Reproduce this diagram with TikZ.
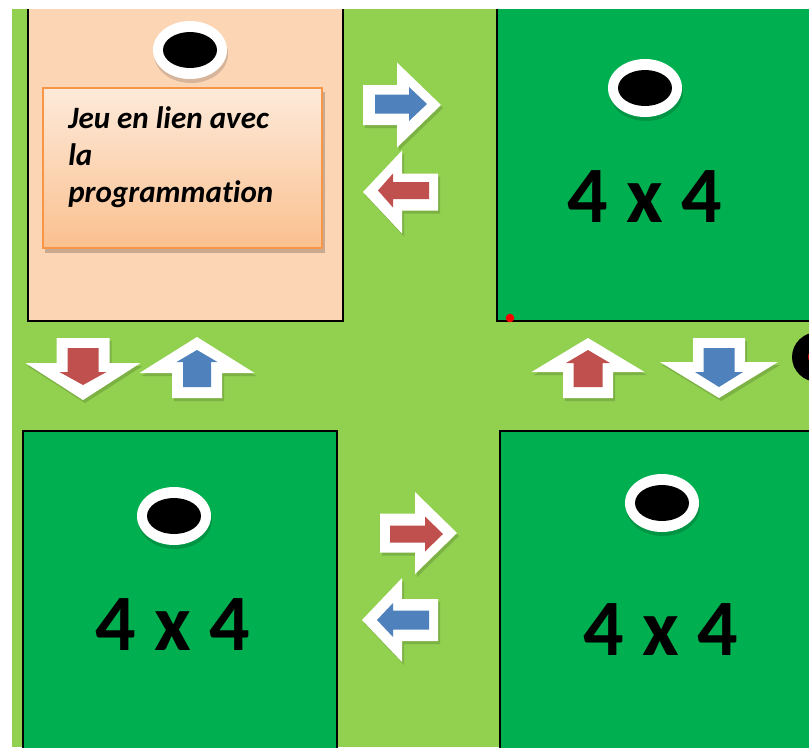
\documentclass[tikz,border=0pt]{standalone}
\usepackage{fontspec}
\setmainfont[Ligatures=CommonOff]{Carlito}
\definecolor{lgreen}{HTML}{92D050}
\definecolor{dgreen}{HTML}{00B050}
\definecolor{peach}{HTML}{FCD5B5}
\definecolor{arrred}{HTML}{C0504D}
\definecolor{arrblue}{HTML}{4F81BD}
\definecolor{orangeb}{HTML}{F79646}
\definecolor{boxtop}{HTML}{FDEADA}
\definecolor{boxbot}{HTML}{FAC08F}
% horizontal block arrow: style, tail x, head-base x, tip x, centre y, half shaft, half head
\newcommand\harrow[7]{\fill[#1] ({#2},{#5-#6}) -- ({#3},{#5-#6}) -- ({#3},{#5-#7}) -- ({#4},{#5}) -- ({#3},{#5+#7}) -- ({#3},{#5+#6}) -- ({#2},{#5+#6}) -- cycle;}
% vertical block arrow: style, tail y, head-base y, tip y, centre x, half shaft, half head
\newcommand\varrow[7]{\fill[#1] ({#5-#6},{#2}) -- ({#5-#6},{#3}) -- ({#5-#7},{#3}) -- ({#5},{#4}) -- ({#5+#7},{#3}) -- ({#5+#6},{#3}) -- ({#5+#6},{#2}) -- cycle;}
\tikzset{
  boxline/.style={draw=black, line width=1.5pt},
  whitearr/.style={white},
  holeout/.style={fill=white},
  holein/.style={fill=black},
  bigtxt/.style={anchor=base, font=\bfseries\fontsize{60}{60}\selectfont, inner sep=0pt},
  boxtxt/.style={anchor=base west, font=\bfseries\itshape\fontsize{23.3}{27}\selectfont, inner sep=0pt},
}
\newcommand\hole[2]{%
  \fill[black, opacity=0.15] (#1+1,#2+4) ellipse [x radius=27.75pt, y radius=21.75pt];
  \fill[holeout] (#1,#2) ellipse [x radius=27.75pt, y radius=21.75pt];
  \fill[holein] (#1,#2) ellipse [x radius=20.25pt, y radius=13.5pt];}
\begin{document}
\begin{tikzpicture}[x=0.75pt, y=-0.75pt]
\useasboundingbox (0,0) rectangle (809,747);
\fill[white] (0,0) rectangle (809,747);
\fill[lgreen] (12,9) rectangle (809,747);
\begin{scope}
\clip (12,9) rectangle (809,747);
% plots
\filldraw[fill=peach, boxline] (28,-10) rectangle (343,321);
\filldraw[fill=dgreen, boxline] (497,-10) rectangle (830,321);
\filldraw[fill=dgreen, boxline] (23,431) rectangle (337,760);
\filldraw[fill=dgreen, boxline] (500,431) rectangle (830,760);
% partial hole at right edge
\fill[black] (818,357) ellipse [x radius=19.5pt, y radius=18.75pt];
\fill[red!80!black] (828,357) ellipse [x radius=15pt, y radius=9pt];
\end{scope}
% holes
\hole{190}{50}
\hole{645}{88}
\hole{174}{516}
\hole{662}{503}
% text box
\fill[black, opacity=0.2] (45,92) rectangle (325,253);
\shade[top color=boxtop, bottom color=boxbot, draw=orangeb, line width=1.2pt] (43,88) rectangle (322,248);
\node[boxtxt] (t1) at (68,128) {Jeu en lien avec};
\node[boxtxt] (t2) at (68,165) {la};
\node[boxtxt] (t3) at (68,202) {programmation};
% big labels
\node[bigtxt] (g1) at (645,222) {4 x 4};
\node[bigtxt] (g2) at (173,650) {4 x 4};
\node[bigtxt] (g3) at (661,655) {4 x 4};
% red dot
\fill[red] (510,318) circle [radius=3.2pt];
% arrow shadows
\begin{scope}[shift={(2,3)}]
\harrow{black, opacity=0.15}{363}{397}{441}{105}{20}{42.5}
\harrow{black, opacity=0.15}{438}{402}{363}{192}{18.5}{41.5}
\harrow{black, opacity=0.15}{380}{415}{457}{533}{19.5}{41}
\harrow{black, opacity=0.15}{438}{402}{362}{620}{21}{42}
\varrow{black, opacity=0.15}{338}{363}{400}{83}{26.5}{57.5}
\varrow{black, opacity=0.15}{398}{373}{337}{197}{25}{57.5}
\varrow{black, opacity=0.15}{398}{372}{338}{588}{25}{56.5}
\varrow{black, opacity=0.15}{338}{362}{398}{719}{26}{59}
\end{scope}
% top pair
\harrow{whitearr}{363}{397}{441}{105}{20}{42.5}
\harrow{arrblue}{375}{409}{427}{104}{9.5}{17}
\harrow{whitearr}{438}{402}{363}{192}{18.5}{41.5}
\harrow{arrred}{429}{393}{378}{190.5}{8.5}{17}
% bottom pair
\harrow{whitearr}{380}{415}{457}{533}{19.5}{41}
\harrow{arrred}{390}{425}{443}{534}{8.5}{17.5}
\harrow{whitearr}{438}{402}{362}{620}{21}{42}
\harrow{arrblue}{429}{393}{377}{620}{9.5}{17}
% left vertical pair
\varrow{whitearr}{338}{363}{400}{83}{26.5}{57.5}
\varrow{arrred}{348}{372}{385}{83}{15.5}{23.5}
\varrow{whitearr}{398}{373}{337}{197}{25}{57.5}
\varrow{arrblue}{387}{362}{350}{197}{14}{20.5}
% right vertical pair
\varrow{whitearr}{398}{372}{338}{588}{25}{56.5}
\varrow{arrred}{387}{363}{350}{588}{14.5}{22}
\varrow{whitearr}{338}{362}{398}{719}{26}{59}
\varrow{arrblue}{348}{372}{387}{719}{15.5}{24}
\end{tikzpicture}
\end{document}
